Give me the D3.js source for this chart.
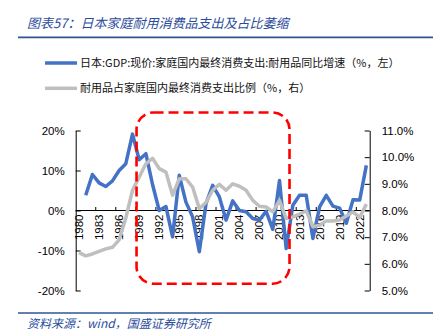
<!DOCTYPE html>
<html><head><meta charset="utf-8">
<script src="https://cdn.jsdelivr.net/npm/d3@7/dist/d3.min.js"></script>
<style>
html,body{margin:0;padding:0;background:#fff;}
svg{display:block;}
</style></head>
<body>
<svg id="c" width="433" height="336"></svg>
<script>
const years = ["1980","1981","1982","1983","1984","1985","1986","1987","1988","1989","1990","1991","1992","1993","1994","1995","1996","1997","1998","1999","2000","2001","2002","2003","2004","2005","2006","2007","2008","2009","2010","2011","2012","2013","2014","2015","2016","2017","2018","2019","2020","2021","2022","2023"];
const growth = [null,3.8,9.0,6.9,6.0,7.4,10.0,11.7,19.1,12.7,14.2,6.5,0.0,1.0,-6.6,8.8,2.1,-1.6,-10.3,1.7,6.3,3.4,-2.4,2.4,0.0,-0.3,-2.0,-2.4,-0.2,-4.7,7.5,-9.5,1.3,3.8,3.8,-7.0,0.9,3.8,1.1,0.6,-3.2,2.7,2.6,11.3];
const share = [6.42,6.3,6.37,6.47,6.56,6.62,6.9,7.72,8.76,9.25,9.75,9.96,9.57,9.44,8.57,9.19,9.19,8.88,8.07,8.3,8.76,8.98,8.76,9.0,8.91,8.76,8.38,8.16,8.13,7.95,8.38,7.70,7.76,7.86,7.99,7.39,7.45,7.61,7.61,7.64,7.79,7.95,7.74,8.24];
const leftTicks = [-20,-10,0,10,20];
const rightTicks = [5,6,7,8,9,10,11];
const titleText = "图表57：日本家庭耐用消费品支出及占比萎缩";
const legendLabels = ["日本:GDP:现价:家庭国内最终消费支出:耐用品同比增速（%，左）","耐用品占家庭国内最终消费支出比例（%，右）"];
const sourceText = "资料来源：wind，国盛证券研究所";
const highlightYears = ["1989","2012"];
const highlightRange = [24.5,-18.3];

const svg = d3.select("#c");
const blue = "#4472C4", grey = "#BFBFBF", navy = "#2B4C9B";
const numFont = "'Liberation Sans', Arial, sans-serif";
const cjk = "'Noto Sans CJK SC', sans-serif";

const x = d3.scaleBand().domain(years).range([75.7, 369.7]).padding(0);
const yL = d3.scaleLinear().domain([-20,20]).range([290.5,130.5]);
const yR = d3.scaleLinear().domain([5,11]).range([290.5,130.5]);
const cx = d => x(d) + x.bandwidth()/2;

// title & rules
svg.append("text").attr("x",27).attr("y",28).text(titleText)
  .attr("font-family",cjk).attr("font-size",13).attr("font-style","italic").attr("fill",navy);
svg.append("line").attr("x1",18).attr("x2",433).attr("y1",37.3).attr("y2",37.3).attr("stroke","#2F5597").attr("stroke-width",1.8);
svg.append("line").attr("x1",18).attr("x2",433).attr("y1",313).attr("y2",313).attr("stroke","#2F5597").attr("stroke-width",1.5);
svg.append("text").attr("x",27).attr("y",328).text(sourceText)
  .attr("font-family",cjk).attr("font-size",12).attr("font-style","italic").attr("fill",navy);

// legend
const legColors = [blue, grey];
const legY = [63, 88.3];
legendLabels.forEach((t,i)=>{
  svg.append("line").attr("x1",45).attr("x2",77).attr("y1",legY[i]).attr("y2",legY[i])
    .attr("stroke",legColors[i]).attr("stroke-width",3.5);
  svg.append("text").attr("x",80).attr("y",legY[i]+4).text(t)
    .attr("font-family",cjk).attr("font-size",11).attr("fill","#111");
});

// left axis
const gL = svg.append("g").attr("transform","translate(75.7,0)")
  .call(d3.axisLeft(yL).tickValues(leftTicks).tickFormat(d=>d+"%").tickSizeInner(-5).tickSizeOuter(0).tickPadding(11));
gL.selectAll("text").attr("font-family",numFont).attr("font-size",11.5).attr("fill","#000");
gL.selectAll("path,line").attr("stroke","#000");

// right axis
const gR = svg.append("g").attr("transform","translate(369.7,0)")
  .call(d3.axisRight(yR).tickValues(rightTicks).tickFormat(d=>d.toFixed(1)+"%").tickSizeInner(-5).tickSizeOuter(0).tickPadding(12));
gR.selectAll("text").attr("font-family",numFont).attr("font-size",11.5).attr("fill","#000");
gR.selectAll("path,line").attr("stroke","#000");

// x axis at 0%
const y0 = yL(0);
svg.append("line").attr("x1",x.range()[0]).attr("x2",x.range()[1]).attr("y1",y0).attr("y2",y0).attr("stroke","#000").attr("stroke-width",1);
const labYears = years.filter((d,i)=>i%3===0);
svg.selectAll(".xt").data(labYears.slice(1)).enter().append("line")
  .attr("x1",d=>x(d)).attr("x2",d=>x(d)).attr("y1",y0).attr("y2",y0-3.5).attr("stroke","#000");
svg.selectAll(".xl").data(labYears).enter().append("text")
  .attr("transform",d=>`translate(${cx(d)+4},${y0+4}) rotate(-90)`)
  .attr("text-anchor","end").text(d=>d)
  .attr("font-family",numFont).attr("font-size",11.5).attr("fill","#000");

// lines
const lineL = d3.line().defined(d=>d.v!==null).x(d=>cx(d.y)).y(d=>yL(d.v));
const lineR = d3.line().x(d=>cx(d.y)).y(d=>yR(d.v));
svg.append("path").datum(years.map((y,i)=>({y,v:growth[i]})))
  .attr("d",lineL).attr("fill","none").attr("stroke",blue).attr("stroke-width",3.5).attr("stroke-linejoin","round");
svg.append("path").datum(years.map((y,i)=>({y,v:share[i]})))
  .attr("d",lineR).attr("fill","none").attr("stroke",grey).attr("stroke-width",3.5).attr("stroke-linejoin","round");

// highlight box
const hx0 = x(highlightYears[0]) + 0.7, hx1 = x(highlightYears[1]);
const hy0 = yL(highlightRange[0]), hy1 = yL(highlightRange[1]);
svg.append("rect").attr("x",hx0).attr("y",hy0).attr("width",hx1-hx0).attr("height",hy1-hy0)
  .attr("rx",17).attr("ry",17).attr("fill","none").attr("stroke","#FF0000").attr("stroke-width",2.6)
  .attr("stroke-dasharray","10,5");
</script>
</body></html>
